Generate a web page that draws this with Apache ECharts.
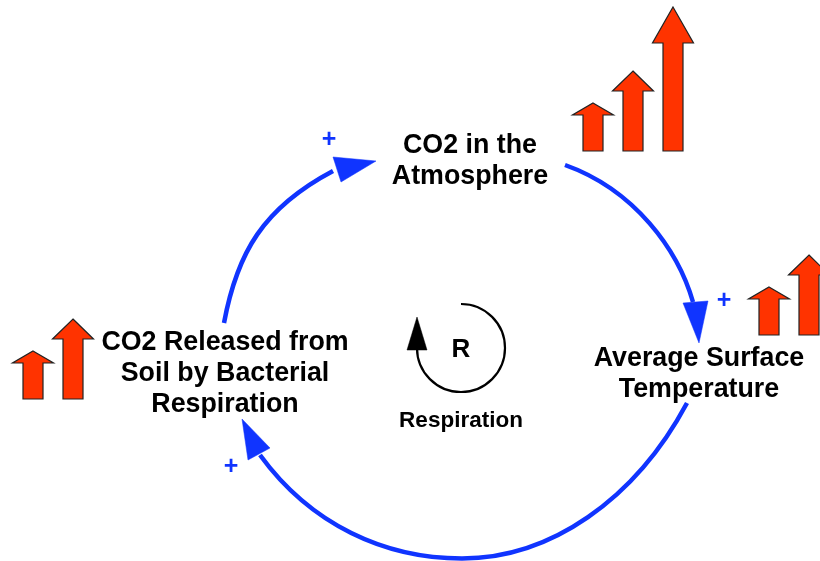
<!DOCTYPE html>
<html>
<head>
<meta charset="utf-8">
<style>html,body{margin:0;padding:0;background:#fff}#c{width:820px;height:561px}</style>
<script src="https://cdn.jsdelivr.net/npm/echarts@6/dist/echarts.min.js"></script>
</head>
<body>
<div id="c"></div>
<script>
// Block arrows: centre x, tip y, head base y, shaft base y
const blockArrows = [
  [593, 103, 115, 151], [633, 71, 91, 151], [673, 7, 43, 151],
  [769, 287, 299, 335], [809, 255, 275, 335],
  [33, 351, 363, 399], [73, 319, 339, 399]
];
// Causal links as cubic segments: start, two controls, end
const blueLinks = [
  [565,165, 635,190, 678,250, 693,302],
  [687,403, 635,500, 550,558.5, 462,558.5],
  [462,558.5, 385,558.5, 311,525, 260,455],
  [224,323, 237,253, 263,208, 333,171]
];
// Small loop: centre x, centre y, radius
const smallLoop = [[461, 348, 44]];
// Arrowheads: three corners
const blueHeads = [
  [[699,343],[683,303],[708,301]],
  [[242,419],[270,448],[248,460]],
  [[376,161],[333,157],[341,182]]
];
const blackHeads = [[[417,317],[407,350],[427,350]]];
const mainLabels = [
  ['CO2 in the',470,146],['Atmosphere',470,177],
  ['Average Surface',699,359],['Temperature',699,390],
  ['CO2 Released from',225,343],['Soil by Bacterial',225,374],['Respiration',225,405]
];
const rLabel = [['R',461,350]];
const loopName = [['Respiration',461,421]];
const plusLabels = [['+',329,140],['+',724,301],['+',231,467]];

const BLUE = '#1034ff', RED = '#ff3300', FONT = '"Liberation Sans", Arial, sans-serif';

const linkSeries = {
  type: 'custom', data: blueLinks, silent: true, animation: false,
  renderItem(p, api) {
    const c = [0, 2, 4, 6].map(i => api.coord([api.value(i), api.value(i + 1)]));
    return {
      type: 'bezierCurve',
      shape: { x1: c[0][0], y1: c[0][1], cpx1: c[1][0], cpy1: c[1][1], cpx2: c[2][0], cpy2: c[2][1], x2: c[3][0], y2: c[3][1] },
      style: { stroke: BLUE, lineWidth: 4.5, fill: null }
    };
  }
};
const loopSeries = {
  type: 'custom', data: smallLoop, silent: true, animation: false,
  renderItem(p, api) {
    const c = api.coord([api.value(0), api.value(1)]);
    return {
      type: 'arc',
      shape: { cx: c[0], cy: c[1], r: api.value(2), startAngle: -Math.PI / 2, endAngle: Math.PI, clockwise: true },
      style: { stroke: '#000', lineWidth: 2.2, fill: null }
    };
  }
};
function headSeries(heads, color) {
  return {
    type: 'custom', data: heads.map(h => h.flat()), silent: true, animation: false,
    renderItem(p, api) {
      const pts = [0, 2, 4].map(i => api.coord([api.value(i), api.value(i + 1)]));
      return { type: 'polygon', shape: { points: pts }, style: { fill: color, stroke: color, lineWidth: 0.5 } };
    }
  };
}
function textSeries(rows, size, color) {
  return {
    type: 'custom', data: rows, silent: true, animation: false,
    encode: { x: 1, y: 2 },
    dimensions: [{ name: 't', type: 'ordinal' }, 'x', 'y'],
    renderItem(p, api) {
      const c = api.coord([rows[p.dataIndex][1], rows[p.dataIndex][2]]);
      return {
        type: 'text', x: c[0], y: c[1],
        style: { text: rows[p.dataIndex][0], fill: color, font: 'bold ' + size + 'px ' + FONT, textAlign: 'center', textVerticalAlign: 'middle' }
      };
    }
  };
}
const arrowSeries = {
  type: 'custom', data: blockArrows, silent: true, animation: false,
  renderItem(p, api) {
    const cx = api.value(0), tip = api.value(1), hb = api.value(2), base = api.value(3);
    const head = 20.5, shaft = 10;
    const raw = [[cx,tip],[cx+head,hb],[cx+shaft,hb],[cx+shaft,base],[cx-shaft,base],[cx-shaft,hb],[cx-head,hb]];
    return {
      type: 'polygon', shape: { points: raw.map(q => api.coord(q)) },
      style: { fill: RED, stroke: '#222', lineWidth: 1.2 }
    };
  }
};

const chart = echarts.init(document.getElementById('c'));
chart.setOption({
  backgroundColor: '#fff',
  animation: false,
  grid: { left: 0, right: 0, top: 0, bottom: 0 },
  xAxis: { type: 'value', min: 0, max: 820, show: false },
  yAxis: { type: 'value', min: 0, max: 561, inverse: true, show: false },
  series: [
    arrowSeries,
    linkSeries,
    loopSeries,
    headSeries(blueHeads, BLUE),
    headSeries(blackHeads, '#000'),
    textSeries(mainLabels, 26.8, '#000'),
    textSeries(rLabel, 26, '#000'),
    textSeries(loopName, 22.5, '#000'),
    textSeries(plusLabels, 25, BLUE)
  ]
});
</script>
</body>
</html>
